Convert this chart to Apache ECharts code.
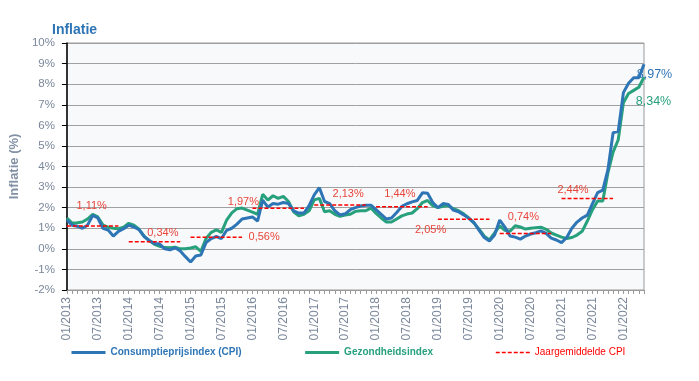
<!DOCTYPE html>
<html>
<head>
<meta charset="utf-8">
<script src="https://cdn.jsdelivr.net/npm/echarts@6/dist/echarts.min.js"></script>
<style>
html,body{margin:0;padding:0;background:#ffffff;}
#c{width:699px;height:381px;}
</style>
</head>
<body>
<div id="c"></div>
<script>
// ---------- DATA ----------
const years = [2013, 2014, 2015, 2016, 2017, 2018, 2019, 2020, 2021, 2022];
const lastMonthOfLastYear = 5; // data up to 05/2022

// Consumptieprijsindex (CPI), y/y %, monthly from 01/2013
const cpi = [
  1.40, 1.15, 1.10, 1.00, 1.15, 1.62, 1.50, 1.00, 0.91, 0.62, 0.85, 0.98,
  1.15, 1.06, 0.93, 0.60, 0.40, 0.26, 0.23, 0.00, -0.05, 0.05, -0.10, -0.38,
  -0.64, -0.35, -0.30, 0.30, 0.50, 0.60, 0.50, 0.90, 1.00, 1.20, 1.45, 1.50,
  1.55, 1.35, 2.37, 2.03, 2.20, 2.17, 2.25, 2.20, 1.85, 1.74, 1.74, 2.10,
  2.62, 2.97, 2.30, 2.20, 1.85, 1.65, 1.70, 1.90, 2.00, 2.08, 2.12, 2.12,
  1.90, 1.68, 1.45, 1.50, 1.77, 2.06, 2.19, 2.28, 2.35, 2.72, 2.70, 2.25,
  2.00, 2.20, 2.16, 1.88, 1.80, 1.65, 1.48, 1.28, 0.90, 0.55, 0.38, 0.67,
  1.40, 1.06, 0.62, 0.57, 0.47, 0.62, 0.72, 0.78, 0.87, 0.75, 0.52, 0.43,
  0.30, 0.55, 1.00, 1.30, 1.50, 1.64, 2.20, 2.73, 2.85, 3.85, 5.64, 5.71,
  7.59, 8.04, 8.31, 8.31, 8.97
];

// Gezondheidsindex, y/y %, monthly from 01/2013
const gezondheid = [
  1.50, 1.25, 1.27, 1.30, 1.45, 1.68, 1.55, 1.15, 1.05, 1.00, 0.98, 1.05,
  1.24, 1.15, 0.95, 0.60, 0.40, 0.22, 0.12, 0.06, 0.05, 0.08, 0.00, 0.00,
  0.04, 0.10, -0.12, 0.50, 0.80, 0.92, 0.80, 1.40, 1.75, 1.95, 1.98, 1.88,
  1.78, 1.68, 2.65, 2.37, 2.58, 2.45, 2.55, 2.30, 1.80, 1.60, 1.68, 1.85,
  2.38, 2.45, 1.80, 1.85, 1.68, 1.58, 1.64, 1.68, 1.82, 1.85, 1.85, 1.98,
  1.72, 1.50, 1.30, 1.30, 1.45, 1.60, 1.69, 1.74, 1.95, 2.25, 2.35, 2.10,
  2.00, 2.07, 2.10, 1.95, 1.85, 1.70, 1.50, 1.25, 0.95, 0.62, 0.43, 0.77,
  1.12, 0.90, 0.85, 1.12, 1.06, 0.96, 1.00, 1.03, 1.05, 0.95, 0.77, 0.67,
  0.57, 0.50, 0.55, 0.67, 0.85, 1.35, 1.90, 2.32, 2.32, 3.70, 4.70, 5.30,
  7.10, 7.55, 7.70, 7.85, 8.34
];

// Jaargemiddelde CPI
const avgYears = [2013, 2014, 2015, 2016, 2017, 2018, 2019, 2020, 2021];
const yearlyAvg = [1.11, 0.34, 0.56, 1.97, 2.13, 2.05, 1.44, 0.74, 2.44];

const yTicks = { min: -2, max: 10, interval: 1 };

// ---------- LAYOUT / STYLE ----------
const FONT = "'Liberation Sans', Arial, sans-serif";
const BLUE = '#2E75B6';
const GREEN = '#27A07C';
const RED = '#FF0000';
const LABEL_RED = '#E8463A';
const AXIS_TXT = '#7a879a';

// where each yearly-average label sits (year, month index of anchor point, offset of label centre)
const avgLabelSpots = [
  { year: 2013, month: 5,  offset: [-1, -20] },
  { year: 2014, month: 7,  offset: [-2, -9] },
  { year: 2015, month: 10, offset: [22, 0] },
  { year: 2016, month: 0,  offset: [-9, -6.5] },
  { year: 2017, month: 6,  offset: [3, -11] },
  { year: 2018, month: 10, offset: [3, 23.5] },
  { year: 2019, month: 0,  offset: [-38, -25] },
  { year: 2020, month: 4,  offset: [3, -17] },
  { year: 2021, month: 3,  offset: [-4, -9] }
];

const fmt = v => v.toFixed(2).replace('.', ',') + '%';

const categories = [];
years.forEach((y, yi) => {
  const n = yi === years.length - 1 ? lastMonthOfLastYear : 12;
  for (let m = 1; m <= n; m++) categories.push(String(m).padStart(2, '0') + '/' + y);
});

function endPoint(arr, color, offset) {
  return arr.map((v, i) => {
    if (i !== arr.length - 1) return v;
    return {
      value: v, symbol: 'circle', symbolSize: 0,
      label: {
        show: true, position: 'inside', offset: offset,
        formatter: fmt(v), color: color, fontSize: 12.5, fontFamily: FONT,
        textBorderWidth: 0
      }
    };
  });
}

const avgData = categories.map(c => {
  const parts = c.split('/');
  const m = +parts[0] - 1, y = +parts[1];
  const k = avgYears.indexOf(y);
  if (k < 0 || m === 11) return '-';
  const spot = avgLabelSpots.find(s => s.year === y && s.month === m);
  if (!spot) return yearlyAvg[k];
  return {
    value: yearlyAvg[k], symbol: 'circle', symbolSize: 0,
    label: {
      show: true, position: 'inside', offset: spot.offset,
      formatter: fmt(yearlyAvg[k]), color: LABEL_RED, fontSize: 11, fontFamily: FONT,
      textBorderWidth: 0
    }
  };
});

const chart = echarts.init(document.getElementById('c'), null, { renderer: 'canvas' });
chart.setOption({
  animation: false,
  backgroundColor: '#ffffff',
  textStyle: { fontFamily: FONT },
  title: {
    text: 'Inflatie', left: 52, top: 23, padding: 0,
    textStyle: { fontFamily: FONT, fontSize: 14, fontWeight: 'bold', color: BLUE }
  },
  grid: {
    left: 57, right: 55, top: 43, bottom: 91,
    show: true, backgroundColor: '#F8F9FB', borderColor: '#9a9a9a', borderWidth: 1
  },
  legend: {
    left: 70, top: 347, padding: 0, itemWidth: 34, itemHeight: 14, itemGap: 62,
    itemStyle: { opacity: 0 },
    textStyle: { fontFamily: FONT, fontSize: 10, fontWeight: 'bold' },
    data: [
      { name: 'Consumptieprijsindex (CPI)', textStyle: { color: BLUE }, lineStyle: { width: 3 } },
      { name: 'Gezondheidsindex', textStyle: { color: GREEN }, lineStyle: { width: 3 } },
      { name: 'Jaargemiddelde CPI', textStyle: { color: RED, fontWeight: 'normal' }, lineStyle: { width: 1.5, type: [4, 2] } }
    ]
  },
  xAxis: {
    type: 'category', data: categories, boundaryGap: false,
    axisLine: { onZero: false, lineStyle: { color: '#9a9a9a' } },
    axisTick: { interval: 0, length: 4, lineStyle: { color: '#9a9a9a' } },
    axisLabel: { interval: 5, rotate: 90, margin: 7, color: AXIS_TXT, fontSize: 12, fontFamily: FONT },
    splitLine: { show: false }
  },
  yAxis: {
    type: 'value', min: yTicks.min, max: yTicks.max, interval: yTicks.interval,
    name: 'Inflatie (%)', nameLocation: 'middle', nameGap: 35,
    nameTextStyle: { fontFamily: FONT, fontSize: 13, fontWeight: 'bold', color: '#8291a5' },
    axisLine: { show: true, lineStyle: { color: '#000000', width: 1.5 } },
    axisTick: { show: true, length: 5, lineStyle: { color: '#000000' } },
    axisLabel: { formatter: '{value}%', margin: 12, color: AXIS_TXT, fontSize: 11.5, fontFamily: FONT },
    splitLine: { lineStyle: { color: '#a0a0a0', width: 1 } }
  },
  series: [
    {
      name: 'Consumptieprijsindex (CPI)', type: 'line', z: 4,
      data: endPoint(cpi, BLUE, [10.5, 10.8]),
      symbol: 'none', showSymbol: true, showAllSymbol: true, silent: true, clip: false,
      lineStyle: { color: BLUE, width: 3 }, itemStyle: { color: BLUE }
    },
    {
      name: 'Gezondheidsindex', type: 'line', z: 3,
      data: endPoint(gezondheid, GREEN, [9.5, 24.5]),
      symbol: 'none', showSymbol: true, showAllSymbol: true, silent: true, clip: false,
      lineStyle: { color: GREEN, width: 3 }, itemStyle: { color: GREEN }
    },
    {
      name: 'Jaargemiddelde CPI', type: 'line', z: 5,
      data: avgData, connectNulls: false,
      symbol: 'none', showSymbol: true, showAllSymbol: true, silent: true, clip: false,
      lineStyle: { color: RED, width: 1.5, type: [4, 2] }, itemStyle: { color: RED }
    }
  ]
});
</script>
</body>
</html>
